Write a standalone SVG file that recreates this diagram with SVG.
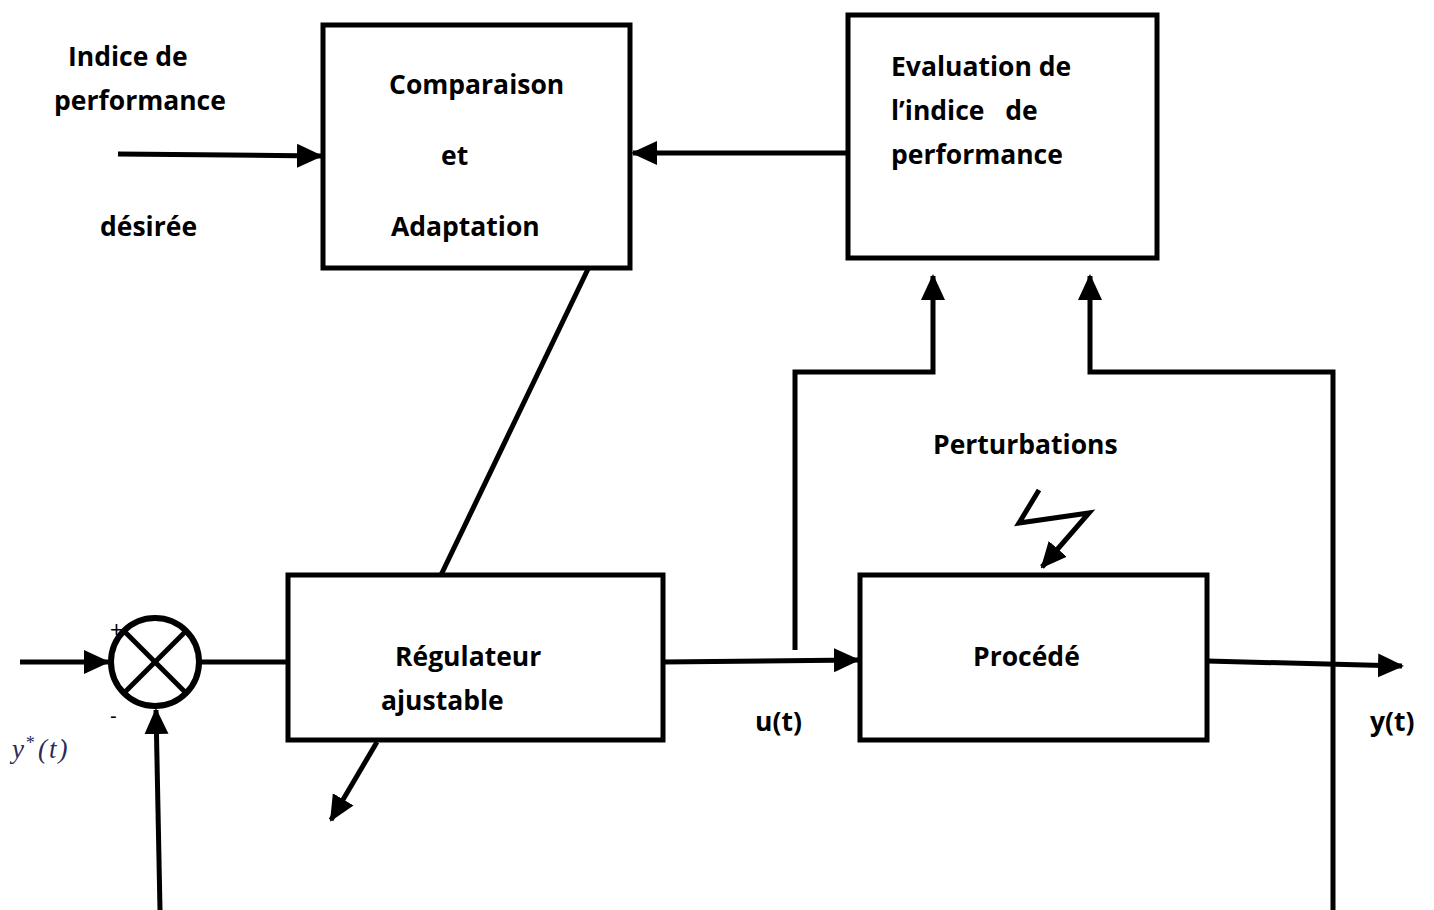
<svg xmlns="http://www.w3.org/2000/svg" width="1434" height="910" viewBox="0 0 1434 910">
<defs>
<marker id="ah" markerUnits="userSpaceOnUse" markerWidth="26" markerHeight="26" viewBox="0 0 26 26" refX="24" refY="13" orient="auto">
<path d="M0,1 L26,13 L0,25 Z" fill="#000"/>
</marker>
</defs>
<style>
.box{fill:#fff;stroke:#000;stroke-width:5}
.ln{fill:none;stroke:#000;stroke-width:5}
.arr{fill:none;stroke:#000;stroke-width:5;marker-end:url(#ah)}
.t{font-family:"Open Sans","Liberation Sans",sans-serif;font-weight:700;font-size:26.5px;fill:#000}
</style>
<rect width="1434" height="910" fill="#fff"/>
<g id="connectors">
<line class="arr" x1="118" y1="154" x2="321" y2="156"/>
<line class="arr" x1="848" y1="153" x2="633" y2="153"/>
<line class="ln" x1="588" y1="269" x2="441" y2="575"/>
<line class="arr" x1="377" y1="742" x2="331" y2="820"/>
<line class="arr" x1="20" y1="662" x2="108" y2="662"/>
<line class="ln" x1="200" y1="662" x2="288" y2="662"/>
<line class="arr" x1="160" y1="910" x2="156" y2="710"/>
<line class="arr" x1="663" y1="662" x2="858" y2="660"/>
<polyline class="arr" points="795,650 795,372 933,372 933,276"/>
<polyline class="arr" points="1333,910 1333,372 1090,372 1090,276"/>
<line class="arr" x1="1207" y1="661" x2="1402" y2="666"/>
<polyline class="arr" points="1039,490 1019,523 1089,513 1042,567"/>
</g>
<g id="comparaison">
<rect class="box" x="323" y="25" width="307" height="243"/>
<text class="t" x="389" y="94">Comparaison</text>
<text class="t" x="441" y="165">et</text>
<text class="t" x="391" y="236">Adaptation</text>
</g>
<g id="evaluation">
<rect class="box" x="848" y="15" width="309" height="243"/>
<text class="t" x="891" y="76">Evaluation de</text>
<text class="t" x="891" y="120" xml:space="preserve">l’indice   de</text>
<text class="t" x="891" y="164">performance</text>
</g>
<g id="regulateur">
<rect class="box" x="288" y="575" width="375" height="165"/>
<text class="t" x="395" y="666">Régulateur</text>
<text class="t" x="381" y="710">ajustable</text>
</g>
<g id="procede">
<rect class="box" x="860" y="575" width="347" height="165"/>
<text class="t" x="973" y="666">Procédé</text>
</g>
<g id="comparateur">
<circle cx="155" cy="662" r="44" fill="#fff" stroke="#000" stroke-width="6"/>
<line class="ln" x1="124" y1="631" x2="186" y2="693" stroke-width="6"/>
<line class="ln" x1="186" y1="631" x2="124" y2="693" stroke-width="6"/>
<text x="110" y="637" font-family="Liberation Sans, sans-serif" font-size="22" fill="#000">+</text>
<text x="110" y="723" font-family="Liberation Sans, sans-serif" font-size="20" fill="#000">-</text>
</g>
<g id="labels">
<text class="t" x="68" y="66">Indice de</text>
<text class="t" x="54" y="110">performance</text>
<text class="t" x="100" y="236">désirée</text>
<text class="t" x="933" y="454">Perturbations</text>
<text class="t" x="755" y="731">u(t)</text>
<text class="t" x="1370" y="731">y(t)</text>
<text x="12" y="758" font-family="Liberation Serif, serif" font-style="italic" font-size="27" fill="#2b2b55">y<tspan font-size="18" dy="-9" dx="1">*</tspan><tspan dy="9" dx="4">(</tspan><tspan dx="2">t</tspan><tspan dx="2">)</tspan></text>
</g>
</svg>
